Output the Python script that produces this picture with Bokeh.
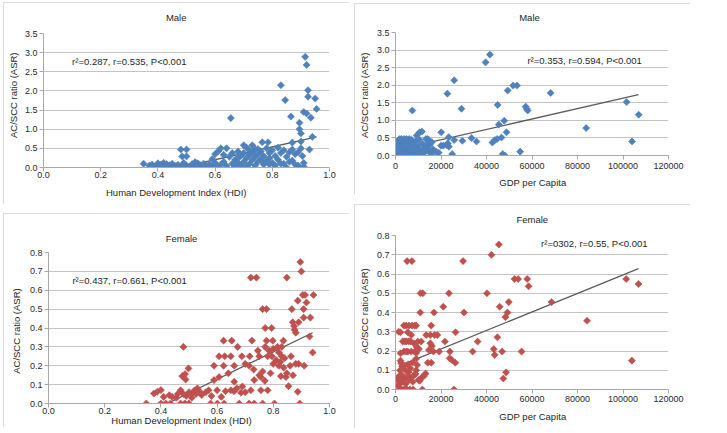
from math import pi
from bokeh.plotting import figure
from bokeh.models import Range1d, Title, NumeralTickFormatter, FixedTicker
from bokeh.layouts import row, column
from bokeh.core.properties import value
from bokeh.embed import file_html
from bokeh.resources import INLINE

# ---------------- data ----------------
male_hdi_x = [0.35, 0.37, 0.38, 0.39, 0.40, 0.40, 0.41, 0.41, 0.42, 0.42, 0.43, 0.43, 0.44, 0.45, 0.45,
              0.46, 0.47, 0.48, 0.48, 0.50, 0.485, 0.50, 0.49, 0.50, 0.51, 0.52, 0.53, 0.54, 0.55, 0.56,
              0.56, 0.57, 0.58, 0.58, 0.59, 0.60, 0.60, 0.61, 0.61, 0.62, 0.62, 0.63, 0.63, 0.64, 0.64,
              0.65, 0.655, 0.66, 0.66, 0.67, 0.67, 0.68, 0.68, 0.69, 0.69, 0.70, 0.70, 0.70, 0.71, 0.71,
              0.71, 0.72, 0.72, 0.72, 0.73, 0.73, 0.74, 0.74, 0.75, 0.75, 0.75, 0.76, 0.76, 0.765, 0.77,
              0.77, 0.78, 0.78, 0.785, 0.79, 0.79, 0.80, 0.80, 0.81, 0.81, 0.82, 0.82, 0.83, 0.83, 0.84,
              0.84, 0.845, 0.85, 0.85, 0.86, 0.865, 0.87, 0.87, 0.88, 0.88, 0.89, 0.89, 0.895, 0.895, 0.90,
              0.90, 0.90, 0.905, 0.91, 0.91, 0.91, 0.915, 0.92, 0.92, 0.925, 0.925, 0.93, 0.935, 0.94, 0.95,
              0.955, 0.73, 0.74, 0.87, 0.86, 0.77, 0.83, 0.79, 0.68, 0.59, 0.53]
male_hdi_y = [0.10, 0.05, 0.08, 0.03, 0.06, 0.11, 0.02, 0.08, 0.05, 0.12, 0.03, 0.09, 0.06, 0.02, 0.10,
              0.04, 0.07, 0.01, 0.47, 0.47, 0.29, 0.29, 0.12, 0.05, 0.02, 0.09, 0.04, 0.11, 0.06, 0.01,
              0.10, 0.04, 0.08, 0.00, 0.05, 0.12, 0.35, 0.02, 0.42, 0.50, 0.08, 0.33, 0.15, 0.50, 0.04,
              0.28, 1.29, 0.10, 0.38, 0.02, 0.20, 0.13, 0.42, 0.06, 0.30, 0.58, 0.15, 0.38, 0.52, 0.03,
              0.25, 0.45, 0.10, 0.33, 0.20, 0.40, 0.05, 0.28, 0.48, 0.15, 0.35, 0.22, 0.42, 0.66, 0.08,
              0.30, 0.50, 0.18, 0.66, 0.38, 0.25, 0.12, 0.45, 0.30, 0.05, 0.52, 0.20, 2.15, 0.38, 0.45,
              0.10, 1.76, 0.28, 0.00, 0.40, 1.33, 0.65, 0.18, 0.35, 0.08, 0.40, 0.05, 1.17, 1.00, 0.89,
              0.50, 0.68, 0.30, 0.02, 0.12, 1.45, 2.89, 1.41, 2.68, 2.02, 1.85, 0.47, 1.30, 0.80, 1.80,
              1.53, 0.58, 0.48, 0.47, 0.15, 0.12, 0.10, 0.08, 0.25, 0.22, 0.14]

male_gdp_x = [41500, 39600, 25800, 22800, 51700, 53400, 49300, 68200, 101600, 106900, 44900, 57200, 57700,
              58100, 29000, 7400, 47800, 45400, 48800, 83800, 104000, 54800, 47100, 48100, 24900, 33400,
              35600, 29400, 25800, 23400, 20100, 21000, 22500, 23500, 23000, 42600, 43700, 44700, 46600,
              10600, 11600, 9300,
              500, 800, 1000, 1200, 1300, 1500, 1600, 1800, 2000, 2100, 2300, 2500, 2600, 2800, 3000, 3100,
              3300, 3500, 3600, 3800, 4000, 4200, 4400, 4600, 4800, 5000, 5200, 5500, 5700, 6000, 6200,
              6500, 6800, 7000, 7300, 7600, 8000, 8300, 8700, 9000, 9500, 10000, 10500, 11000, 11500,
              12000, 12500, 13000, 13500, 14000, 14500, 15000, 15500, 16000, 16500, 17000, 18000, 19000,
              20000, 600, 1100, 1400, 1700, 2200, 2700, 3200, 4300, 5300, 700, 900, 1900, 13400, 14200]
male_gdp_y = [2.87, 2.65, 2.14, 1.76, 1.99, 1.99, 1.85, 1.78, 1.52, 1.16, 1.44, 1.39, 1.33,
              1.28, 1.33, 1.28, 0.99, 0.88, 0.66, 0.78, 0.40, 0.11, 0.04, 0.00, 0.04, 0.50,
              0.40, 0.42, 0.44, 0.52, 0.66, 0.28, 0.30, 0.25, 0.35, 0.37, 0.44, 0.47, 0.51,
              0.66, 0.68, 0.57,
              0.05, 0.12, 0.02, 0.30, 0.08, 0.45, 0.18, 0.00, 0.25, 0.10, 0.38, 0.05, 0.47, 0.15, 0.30, 0.02,
              0.42, 0.20, 0.08, 0.47, 0.33, 0.12, 0.25, 0.04, 0.47, 0.18, 0.38, 0.10, 0.28, 0.47, 0.05,
              0.35, 0.15, 0.45, 0.22, 0.02, 0.30, 0.12, 0.40, 0.20, 0.08, 0.28, 0.45, 0.15, 0.05,
              0.33, 0.20, 0.10, 0.25, 0.45, 0.15, 0.30, 0.05, 0.38, 0.18, 0.12, 0.10, 0.08,
              0.28, 0.00, 0.06, 0.00, 0.10, 0.03, 0.00, 0.12, 0.00, 0.02, 0.20, 0.35, 0.47, 0.47, 0.47]

female_hdi_x = [0.896, 0.90, 0.72, 0.74, 0.848, 0.905, 0.913, 0.943, 0.887, 0.918, 0.762, 0.776, 0.866,
                0.908, 0.869, 0.89, 0.874, 0.876, 0.88, 0.908, 0.932, 0.929, 0.771, 0.794, 0.623, 0.652,
                0.724, 0.776, 0.798, 0.836, 0.673, 0.771, 0.48, 0.815, 0.745, 0.607, 0.627, 0.649, 0.688,
                0.716, 0.75, 0.78, 0.795, 0.83, 0.863, 0.785, 0.88, 0.89, 0.91, 0.94, 0.589, 0.623, 0.661,
                0.70, 0.714, 0.80, 0.82, 0.837, 0.848, 0.827, 0.845, 0.81, 0.825, 0.498, 0.486, 0.476,
                0.488, 0.607, 0.589, 0.661, 0.732, 0.756, 0.762, 0.72, 0.756, 0.649, 0.685, 0.70, 0.78,
                0.854, 0.887, 0.894, 0.348, 0.387, 0.40, 0.375, 0.41, 0.40, 0.417, 0.434, 0.43, 0.44,
                0.47, 0.48, 0.49, 0.50, 0.51, 0.52, 0.53, 0.54, 0.545, 0.51, 0.525, 0.46, 0.455, 0.47,
                0.485, 0.50, 0.577, 0.601, 0.625, 0.615, 0.679, 0.714, 0.732, 0.762, 0.804, 0.56, 0.58,
                0.60, 0.63, 0.66, 0.67, 0.69, 0.73, 0.75, 0.77, 0.79, 0.80, 0.82, 0.84, 0.86, 0.87, 0.83,
                0.64, 0.57]
female_hdi_y = [0.75, 0.70, 0.667, 0.667, 0.667, 0.575, 0.575, 0.575, 0.545, 0.535, 0.50, 0.50, 0.50,
                0.50, 0.43, 0.43, 0.41, 0.39, 0.375, 0.455, 0.455, 0.355, 0.40, 0.40, 0.333, 0.333,
                0.333, 0.333, 0.333, 0.333, 0.30, 0.30, 0.30, 0.30, 0.28, 0.25, 0.25, 0.25, 0.25,
                0.25, 0.25, 0.25, 0.25, 0.25, 0.25, 0.28, 0.21, 0.21, 0.20, 0.27, 0.20, 0.20, 0.20,
                0.21, 0.20, 0.21, 0.20, 0.19, 0.16, 0.145, 0.14, 0.23, 0.22, 0.186, 0.156, 0.145,
                0.127, 0.14, 0.124, 0.115, 0.124, 0.14, 0.17, 0.07, 0.07, 0.07, 0.057, 0.06, 0.07,
                0.092, 0.062, 0.0, 0.0, 0.062, 0.071, 0.053, 0.035, 0.0, 0.0, 0.0, 0.044, 0.035,
                0.07, 0.05, 0.04, 0.06, 0.05, 0.07, 0.08, 0.06, 0.045, 0.03, 0.05, 0.05, 0.03, 0.0,
                0.0, 0.0, 0.0, 0.0, 0.0, 0.035, 0.0, 0.0, 0.0, 0.0, 0.0, 0.06, 0.04,
                0.07, 0.065, 0.065, 0.08, 0.09, 0.18, 0.15, 0.12, 0.16, 0.29, 0.27, 0.24, 0.20, 0.15, 0.30,
                0.16, 0.07]

female_gdp_x = [45400, 42200, 5100, 7200, 29700, 52300, 53900, 57900, 58500, 101400, 106800, 11000, 12000,
                23500, 40200, 68600, 49800, 21000, 45800, 49200, 48300, 10900, 16900, 30100, 84200, 26400,
                44800, 36100, 21700, 33900, 55400, 46900, 43200, 43600, 23900, 23800, 24800, 26300, 48600,
                47400, 103900, 25700, 11800, 19200, 15700, 13500, 15300, 17200, 18400, 15300, 16000, 14700,
                16700, 14200, 15700, 13200, 12500, 11600, 10700, 9800, 11300, 9400, 10300, 9100, 9100, 9500,
                9100, 10100,
                3700, 4700, 5900, 7300, 8400, 9100, 2200, 5400, 6900, 3200, 4000, 4700, 5700, 6600, 8100,
                2200, 3700, 4700, 5400, 6900, 8400, 2500, 2200, 3000, 4000, 5500, 6500, 7500, 1100, 1300,
                1600, 1900, 2400, 2800, 3300, 3900, 4500, 5200, 6000, 6800, 7600, 8200, 1500, 2700, 3700,
                5100, 6400, 7800, 1200, 2000, 4300, 5800, 8800, 1400]
female_gdp_y = [0.753, 0.70, 0.667, 0.667, 0.667, 0.574, 0.574, 0.574, 0.536, 0.574, 0.548, 0.50, 0.50,
                0.50, 0.50, 0.454, 0.454, 0.43, 0.43, 0.40, 0.376, 0.40, 0.40, 0.40, 0.357, 0.297,
                0.271, 0.249, 0.249, 0.197, 0.197, 0.197, 0.21, 0.18, 0.197, 0.162, 0.153, 0.139, 0.089,
                0.057, 0.15, 0.0, 0.0, 0.197, 0.332, 0.283, 0.283, 0.283, 0.283, 0.24, 0.226, 0.205,
                0.197, 0.139, 0.139, 0.083, 0.07, 0.063, 0.045, 0.249, 0.249, 0.22, 0.21, 0.19, 0.16, 0.127,
                0.10, 0.049,
                0.332, 0.332, 0.332, 0.332, 0.332, 0.332, 0.297, 0.297, 0.283, 0.25, 0.25, 0.25, 0.25, 0.25, 0.24,
                0.188, 0.197, 0.197, 0.197, 0.197, 0.197, 0.136, 0.15, 0.12, 0.125, 0.13, 0.11, 0.14, 0.06, 0.045,
                0.07, 0.03, 0.05, 0.075, 0.04, 0.06, 0.03, 0.07, 0.05, 0.06, 0.04, 0.075, 0.0, 0.0, 0.0,
                0.0, 0.0, 0.0, 0.02, 0.10, 0.10, 0.09, 0.08, 0.30]

# trend lines (end points)
male_hdi_trend_x = [0.48, 0.955]
male_hdi_trend_y = [0.0, 0.80]
male_gdp_trend_x = [0, 106800]
male_gdp_trend_y = [0.15, 1.73]
female_hdi_trend_x = [0.423, 0.94]
female_hdi_trend_y = [0.0, 0.375]
female_gdp_trend_x = [1760, 106800]
female_gdp_trend_y = [0.123, 0.628]

hdi_ticks = [0.0, 0.2, 0.4, 0.6, 0.8, 1.0]
gdp_ticks = [0, 20000, 40000, 60000, 80000, 100000, 120000]
male_y_ticks = [0.0, 0.5, 1.0, 1.5, 2.0, 2.5, 3.0, 3.5]
female_y_ticks = [0.0, 0.1, 0.2, 0.3, 0.4, 0.5, 0.6, 0.7, 0.8]

notes = ["r\u00b2=0.287, r=0.535, P<0.001", "r\u00b2=0.353, r=0.594, P<0.001",
         "r\u00b2=0.437, r=0.661, P<0.001", "r\u00b2=0302, r=0.55, P<0.001"]
note_x = [0.10, 58000, 0.085, 64000]
note_y = [2.76, 2.70, 0.65, 0.758]

BLUE = "#4F81BD"
RED = "#C0504D"
FONT = "Liberation Sans"
FONT_V = value(FONT)
YLABEL = "AC/SCC ratio (ASR)"
TXT = "#1e1e1e"


def ttl(text, align, offset, valign, standoff):
    return Title(text=text, align=align, offset=offset, vertical_align=valign, standoff=standoff,
                 text_font=FONT, text_font_size="9.5px", text_font_style="normal", text_color=TXT)


def panel(w, h, bl, br, bt, bb, xr, yr, xticks, yticks, xfmt, yfmt, xs, ys, color, tx, ty,
          title, t_off, t_so, xlabel, xl_off, xl_so, yl_off, yl_so, note, nx, ny, xstand):
    p = figure(width=w, height=h, output_backend="svg", toolbar_location=None, title=None,
               x_range=Range1d(*xr), y_range=Range1d(*yr),
               min_border_left=bl, min_border_right=br, min_border_top=bt, min_border_bottom=bb)
    try:
        p.frame_align = False
    except Exception:
        pass
    p.outline_line_color = None
    p.background_fill_color = "white"
    p.border_fill_color = "white"
    p.styles = {"outline": "2px solid #d0d0d0", "outline-offset": "-2px"}
    p.xgrid.visible = False
    p.ygrid.grid_line_color = "#c4c4c4"
    p.ygrid.grid_line_width = 1.1
    p.ygrid.ticker = FixedTicker(ticks=yticks)
    for ax, ticks, fmt in ((p.xaxis[0], xticks, xfmt), (p.yaxis[0], yticks, yfmt)):
        ax.ticker = FixedTicker(ticks=ticks)
        ax.formatter = NumeralTickFormatter(format=fmt)
        ax.axis_line_color = "#a8a8a8"
        ax.major_tick_line_color = "#a8a8a8"
        ax.major_tick_in = 0
        ax.major_tick_out = 4
        ax.minor_tick_line_color = None
        ax.major_label_text_font = FONT
        ax.major_label_text_font_size = "9px"
        ax.major_label_text_color = "#2a2a2a"
    p.xaxis[0].major_label_standoff = xstand
    p.yaxis[0].major_label_standoff = 2

    p.line(tx, ty, line_color="#5c5c5c", line_width=1.3)
    p.scatter(xs, ys, marker="square", angle=pi / 4, size=5, fill_color=color,
              line_color=color, line_width=0.6)
    p.text([nx], [ny], text=[note], text_font=FONT_V, text_font_size="9.5px",
           text_color=TXT, text_baseline="middle", text_align="left")

    p.add_layout(ttl(title, "left", t_off, "top", t_so), "above")
    p.add_layout(ttl(xlabel, "left", xl_off, "middle", xl_so), "below")
    p.add_layout(ttl(YLABEL, "left", yl_off, "top", yl_so), "left")
    return p


tl = panel(346, 202, 40, 20, 31, 37, (0, 1), (0, 3.5), hdi_ticks, male_y_ticks, "0.0", "0.0",
           male_hdi_x, male_hdi_y, BLUE, male_hdi_trend_x, male_hdi_trend_y,
           "Male", 122.4, 17, "Human Development Index (HDI)", 62.5, 11, 29.5, 1,
           notes[0], note_x[0], note_y[0], 0)
tr = panel(336, 191, 41, 22, 29, 39, (0, 120000), (0, 3.5), gdp_ticks, male_y_ticks, "0", "0.0",
           male_gdp_x, male_gdp_y, BLUE, male_gdp_trend_x, male_gdp_trend_y,
           "Male", 123.7, 15, "GDP per Capita", 103.8, 9, 17.5, 3,
           notes[1], note_x[1], note_y[1], 3)
bl = panel(346, 214, 45, 20, 39, 24, (0, 1), (0, 0.8), hdi_ticks, female_y_ticks, "0.0", "0.0",
           female_hdi_x, female_hdi_y, RED, female_hdi_trend_x, female_hdi_trend_y,
           "Female", 117.2, 13, "Human Development Index (HDI)", 62.8, -5, 29.7, 5,
           notes[2], note_x[2], note_y[2], 0)
br = panel(336, 224, 41, 22, 31, 39, (0, 120000), (0, 0.8), gdp_ticks, female_y_ticks, "0", "0.0",
           female_gdp_x, female_gdp_y, RED, female_gdp_trend_x, female_gdp_trend_y,
           "Female", 120.9, 18, "GDP per Capita", 103.8, 10, 35.7, 3,
           notes[3], note_x[3], note_y[3], 2)

left = column(tl, bl, spacing=9)
right = column(tr, br, spacing=10, styles={"margin-top": "1px"})
layout = row(left, right, spacing=5, styles={"margin-left": "3px", "margin-top": "2px"})

open("out.html", "w").write(file_html(layout, INLINE))
